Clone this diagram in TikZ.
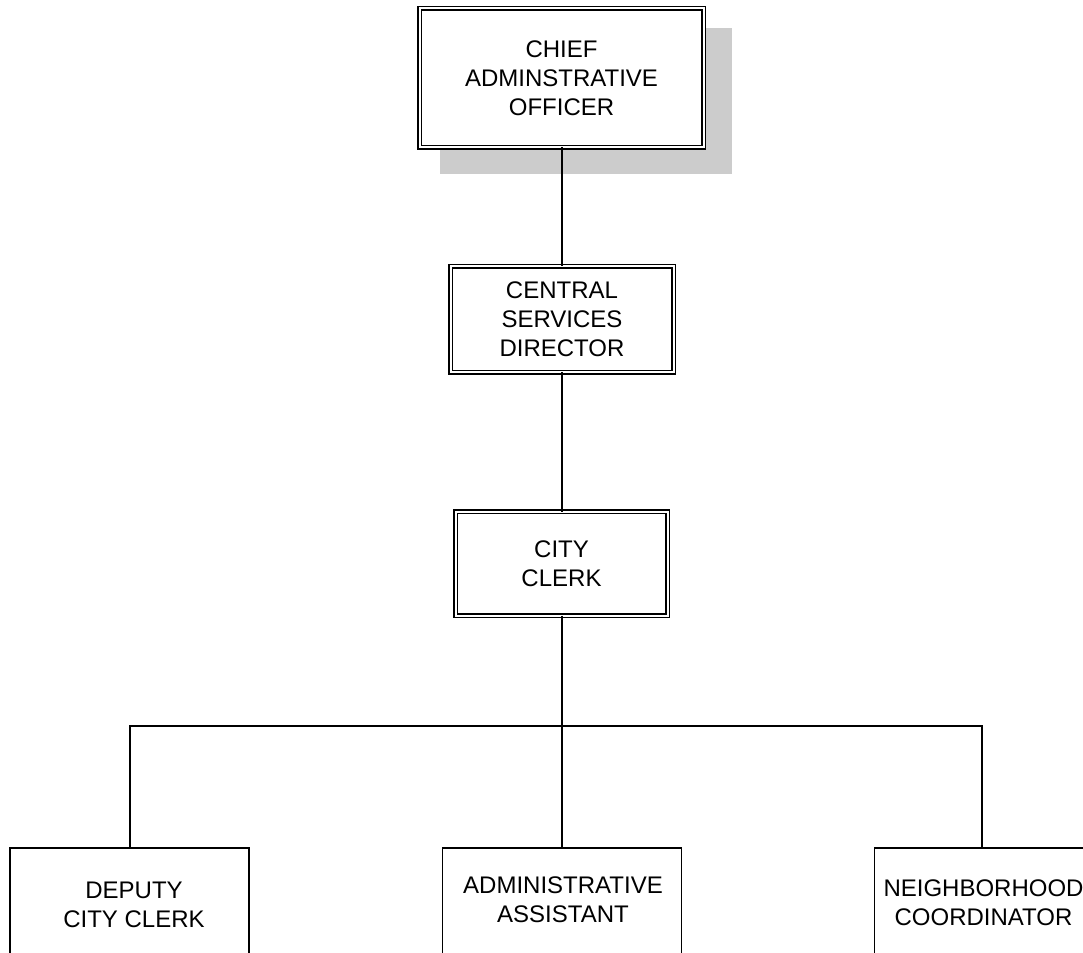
\documentclass[tikz,border=0pt]{standalone}
\usepackage{fontspec}
\setmainfont{Liberation Sans}
\usetikzlibrary{calc}
\definecolor{shadowgray}{HTML}{CCCCCC}
\begin{document}
\begin{tikzpicture}[x=1pt,y=-1pt,
  orgtext/.style={align=center,font=\fontsize{24}{28.8}\selectfont,inner sep=0pt},
  headbox/.style={draw,double,line width=1.5pt,double distance=2pt,
    rectangle,inner sep=0pt,outer sep=0pt,align=center,
    font=\fontsize{24}{28.8}\selectfont},
  staffbox/.style={draw,line width=1.8pt,rectangle,inner sep=0pt,outer sep=0pt,
    minimum width=239pt,minimum height=140pt,anchor=north},
  link/.style={line width=1.8pt}]
\useasboundingbox (0,0) rectangle (1083,952);
\clip (0,0) rectangle (1083,952);

% drop shadow behind the top box
\fill[shadowgray] (440,28) rectangle (732,174);

% management chain
\node[headbox,fill=white,minimum width=284pt,minimum height=139pt] (cao) at (561.5,78)
  {CHIEF\\ADMINSTRATIVE\\OFFICER};
\node[headbox,minimum width=223pt,minimum height=106pt] (csd) at (562,319)
  {CENTRAL\\SERVICES\\DIRECTOR};
\node[headbox,minimum width=212pt,minimum height=104pt] (clerk) at (561.5,563.5)
  {CITY\\CLERK};

% staff boxes (their lower parts run off the page)
\node[staffbox] (deputy) at (129.7,848) {};
\node[staffbox] (assist) at (562,848) {};
\node[staffbox,minimum width=260pt] (neigh) at (1004.5,848) {};

\node[orgtext] (deputy-t) at (134,905) {DEPUTY\\CITY CLERK};
\node[orgtext] (assist-t) at (563,899.5) {ADMINISTRATIVE\\ASSISTANT};
\node[orgtext] (neigh-t) at (983.5,902.5) {NEIGHBORHOOD\\COORDINATOR};

% branch coordinates
\coordinate (bus) at (562,725.7);
\coordinate (busL) at (130,725.7);
\coordinate (busR) at (982,725.7);

% connectors
\draw[link] (cao.south -| bus) -- (csd.north -| bus);
\draw[link] (csd.south -| bus) -- (clerk.north -| bus);
\draw[link] (clerk.south -| bus) -- (assist.north -| bus);
\draw[link] (deputy.north -| busL) -- (busL) -- (busR) -- (neigh.north -| busR);
\end{tikzpicture}
\end{document}
